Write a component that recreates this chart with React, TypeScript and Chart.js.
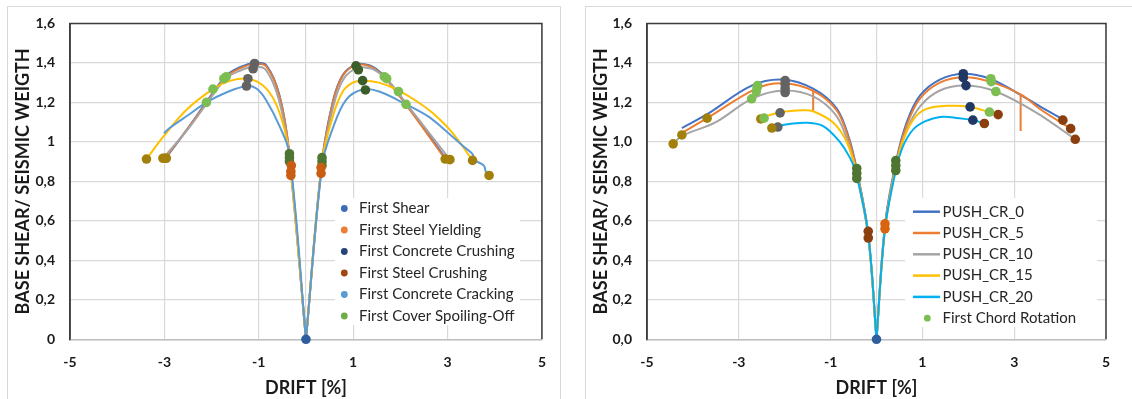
import React, { useEffect, useRef } from 'react';
import { Chart, registerables } from 'chart.js';

Chart.register(...registerables);

type Pt = [number, number];

// ---------------- axes / texts ----------------
const X_TICKS = [-5, -3, -1, 0, 1, 3, 5];
const Y_TICKS = [0, 0.2, 0.4, 0.6, 0.8, 1, 1.2, 1.4, 1.6];
const Y_LABELS_A = ['0', '0,2', '0,4', '0,6', '0,8', '1', '1,2', '1,4', '1,6'];
const Y_LABELS_B = ['0,0', '0,2', '0,4', '0,6', '0,8', '1,0', '1,2', '1,4', '1,6'];
const X_TITLE = 'DRIFT [%]';
const Y_TITLE = 'BASE SHEAR/ SEISMIC WEIGTH';

// ---------------- chart A (left) : curves ----------------
const A_CR0_NEG: Pt[] = [[0, 0], [-0.36, 0.95], [-0.56, 1.235], [-0.84, 1.388], [-1.09, 1.4], [-1.4, 1.378], [-1.7, 1.333], [-2.1, 1.205], [-2.5, 1.07], [-2.96, 0.92]];
const A_CR0_POS: Pt[] = [[0, 0], [0.34, 0.9], [0.57, 1.205], [0.78, 1.338], [1.06, 1.392], [1.34, 1.388], [1.55, 1.358], [1.7, 1.322], [2.26, 1.148], [2.95, 0.92]];
const A_CR5_NEG: Pt[] = [[0, 0], [-0.35, 0.94], [-0.56, 1.23], [-0.84, 1.382], [-1.09, 1.395], [-1.4, 1.372], [-1.7, 1.328], [-2.1, 1.2], [-2.5, 1.068], [-2.99, 0.917]];
const A_CR5_POS: Pt[] = [[0, 0], [0.33, 0.88], [0.57, 1.2], [0.78, 1.335], [1.06, 1.39], [1.34, 1.384], [1.55, 1.352], [1.7, 1.318], [2.26, 1.143], [2.95, 0.913]];
const A_CR10_NEG: Pt[] = [[0, 0], [-0.36, 0.93], [-0.57, 1.21], [-0.85, 1.365], [-1.1, 1.38], [-1.4, 1.36], [-1.7, 1.32], [-2.1, 1.195], [-2.5, 1.065], [-3.03, 0.917]];
const A_CR10_POS: Pt[] = [[0, 0], [0.34, 0.88], [0.58, 1.18], [0.8, 1.32], [1.1, 1.375], [1.4, 1.37], [1.6, 1.34], [1.75, 1.31], [2.3, 1.14], [3.05, 0.91]];
const A_CR15_NEG: Pt[] = [[0, 0], [-0.35, 0.93], [-0.45, 1.06], [-0.65, 1.2], [-0.91, 1.285], [-1.23, 1.32], [-1.6, 1.31], [-1.97, 1.267], [-2.53, 1.163], [-3.01, 1.03], [-3.38, 0.913]];
const A_CR15_POS: Pt[] = [[0, 0], [0.34, 0.9], [0.57, 1.13], [0.78, 1.255], [0.99, 1.3], [1.2, 1.31], [1.55, 1.3], [1.94, 1.263], [2.4, 1.197], [2.68, 1.147], [3.1, 1.047], [3.53, 0.906]];
const A_CR20_NEG: Pt[] = [[0, 0], [-0.35, 0.94], [-0.56, 1.08], [-0.84, 1.21], [-1.05, 1.27], [-1.26, 1.283], [-1.69, 1.25], [-2.11, 1.2], [-2.5, 1.135], [-2.89, 1.07], [-3.01, 1.043]];
const A_CR20_POS: Pt[] = [[0, 0], [0.34, 0.88], [0.57, 1.07], [0.85, 1.213], [1.2, 1.265], [1.55, 1.255], [2.12, 1.19], [2.58, 1.13], [2.93, 1.063], [3.32, 0.98], [3.53, 0.938], [3.56, 0.91], [3.77, 0.88], [3.82, 0.84], [3.88, 0.83]];

// chart A : event markers
const A_SHEAR: Pt[] = [[0, 0]];
const A_END: Pt[] = [[-3.38, 0.913], [-3.03, 0.917], [-2.99, 0.917], [-2.96, 0.917], [2.95, 0.913], [3.05, 0.91], [3.53, 0.906], [3.88, 0.83]];
const A_PEAK_NEG: Pt[] = [[-1.09, 1.397], [-1.12, 1.37], [-1.23, 1.32], [-1.26, 1.283]];
const A_PEAK_POS: Pt[] = [[1.06, 1.385], [1.11, 1.365], [1.2, 1.31], [1.26, 1.263]];
const A_MID: Pt[] = [[-1.69, 1.33], [-1.74, 1.32], [-1.97, 1.267], [-2.11, 1.2], [1.66, 1.33], [1.71, 1.32], [1.96, 1.255], [2.12, 1.19]];
const A_NEAR_GREEN: Pt[] = [[-0.35, 0.94], [-0.35, 0.92], [-0.35, 0.9], [0.34, 0.92], [0.34, 0.9], [0.34, 0.88]];
const A_NEAR_ORANGE: Pt[] = [[-0.31, 0.88], [-0.32, 0.85], [-0.32, 0.83], [0.32, 0.87], [0.32, 0.84]];

const A_LEGEND_LABELS = ['First Shear', 'First Steel Yielding', 'First Concrete Crushing', 'First Steel Crushing', 'First Concrete Cracking', 'First Cover Spoiling-Off'];
const A_LEGEND_COLORS = ['#3F6CB8', '#ED7D31', '#264478', '#9E480E', '#5B9BD5', '#70AD47'];

// ---------------- chart B (right) : curves ----------------
const B_SERIES = ['PUSH_CR_0', 'PUSH_CR_5', 'PUSH_CR_10', 'PUSH_CR_15', 'PUSH_CR_20'];
const B_CR0_NEG: Pt[] = [[0, 0], [-0.18, 0.535], [-0.43, 0.86], [-0.6, 1.02], [-0.87, 1.17], [-1.38, 1.27], [-2.03, 1.315], [-2.72, 1.285], [-3.69, 1.14], [-4.24, 1.07]];
const B_CR0_POS: Pt[] = [[0, 0], [0.185, 0.58], [0.425, 0.9], [0.66, 1.1], [0.95, 1.235], [1.38, 1.315], [1.89, 1.345], [2.47, 1.32], [3.05, 1.25], [3.56, 1.18], [4.07, 1.113]];
const B_CR5_NEG: Pt[] = [[0, 0], [-0.18, 0.53], [-0.43, 0.85], [-0.6, 1.01], [-0.87, 1.16], [-1.38, 1.258], [-2.03, 1.297], [-2.62, 1.27], [-3.69, 1.12], [-4.28, 1.04]];
const B_CR5_POS: Pt[] = [[0, 0], [0.185, 0.57], [0.425, 0.89], [0.66, 1.085], [0.95, 1.22], [1.38, 1.3], [1.89, 1.327], [2.47, 1.305], [3.14, 1.24], [3.6, 1.16], [4.23, 1.067]];
const B_CR5_DROP_NEG: Pt[] = [[-1.38, 1.258], [-1.38, 1.155]];
const B_CR5_DROP_POS: Pt[] = [[3.14, 1.24], [3.14, 1.055]];
const B_CR10_NEG: Pt[] = [[0, 0], [-0.18, 0.52], [-0.43, 0.83], [-0.6, 0.98], [-0.87, 1.13], [-1.38, 1.23], [-2.03, 1.26], [-2.72, 1.218], [-3.5, 1.1], [-4.24, 1.03], [-4.43, 0.99]];
const B_CR10_POS: Pt[] = [[0, 0], [0.185, 0.56], [0.425, 0.88], [0.66, 1.06], [0.95, 1.18], [1.38, 1.26], [1.95, 1.285], [2.6, 1.255], [3.49, 1.147], [4.33, 1.013]];
const B_CR15_NEG: Pt[] = [[0, 0], [-0.18, 0.52], [-0.43, 0.84], [-0.65, 1.0], [-0.94, 1.097], [-1.38, 1.155], [-1.6, 1.16], [-2.1, 1.15], [-2.4, 1.13], [-2.54, 1.12]];
const B_CR15_POS: Pt[] = [[0, 0], [0.185, 0.56], [0.425, 0.87], [0.55, 0.99], [0.8, 1.113], [1.09, 1.167], [1.6, 1.183], [2.04, 1.177], [2.47, 1.15], [2.65, 1.138]];
const B_CR20_NEG: Pt[] = [[0, 0], [-0.18, 0.53], [-0.43, 0.83], [-0.58, 0.92], [-0.8, 1.0], [-1.16, 1.08], [-1.52, 1.097], [-1.9, 1.09], [-2.14, 1.08], [-2.28, 1.07]];
const B_CR20_POS: Pt[] = [[0, 0], [0.185, 0.56], [0.425, 0.86], [0.6, 0.99], [0.88, 1.08], [1.38, 1.126], [1.8, 1.12], [2.1, 1.11], [2.35, 1.093]];

// chart B : markers
const B_CHORD_LABEL = 'First Chord Rotation';
const B_CHORD: Pt[] = [[-2.72, 1.218], [-2.62, 1.255], [-2.6, 1.275], [-2.59, 1.285], [-2.45, 1.12], [2.49, 1.32], [2.5, 1.305], [2.6, 1.255], [2.46, 1.151]];
const B_SHEAR: Pt[] = [[0, 0]];
const B_END: Pt[] = [[-4.43, 0.99], [-4.24, 1.035], [-3.69, 1.12], [-2.52, 1.116], [-2.28, 1.07]];
const B_PEAK_NEG: Pt[] = [[-1.99, 1.31], [-1.99, 1.29], [-1.99, 1.27], [-1.99, 1.25], [-2.1, 1.147], [-2.15, 1.075]];
const B_PEAK_POS: Pt[] = [[1.89, 1.345], [1.89, 1.325], [1.95, 1.285], [2.04, 1.177], [2.1, 1.11]];
const B_CRUSH: Pt[] = [[2.65, 1.138], [2.35, 1.093], [4.06, 1.11], [4.23, 1.067], [4.33, 1.013], [-0.18, 0.547], [-0.18, 0.513]];
const B_NEAR_GREEN: Pt[] = [[-0.43, 0.865], [-0.43, 0.84], [-0.43, 0.815], [0.42, 0.905], [0.42, 0.88], [0.42, 0.855]];
const B_NEAR_ORANGE: Pt[] = [[0.185, 0.585], [0.185, 0.56]];

// ---------------- styles ----------------
const FONT = 'Lato, "Noto Sans", sans-serif';
const TEXT = '#1a1a1a';
const GRID = '#D9D9D9';
const FRAME = '#3c3c3c';
const A_LINE_COLORS = ['#4472C4', '#E07B39', '#A5A5A5', '#FFC000', '#5B9BD5'];
const B_LINE_COLORS = ['#4472C4', '#ED7D31', '#A5A5A5', '#FFC000', '#00B0F0'];
const C_GOLD = '#A3800B';
const C_DGRAY = '#636363';
const C_DGREEN_PEAK = '#3B5E2B';
const C_LGREEN = '#7DBE52';
const C_DGREEN = '#4E7632';
const C_ORANGE = '#C95E12';
const C_BROWN = '#8B3F0E';
const C_NAVY = '#203864';
const C_BLUE = '#2E5E9E';

const toXY = (pts: Pt[]) => pts.map(([x, y]) => ({ x, y }));

function lineSet(label: string, pts: Pt[], color: string, order: number, straight = false) {
  return {
    label,
    data: toXY(pts),
    showLine: true,
    borderColor: color,
    backgroundColor: color,
    borderWidth: 2,
    pointRadius: 0,
    pointHoverRadius: 0,
    pointHitRadius: 0,
    cubicInterpolationMode: 'default',
    tension: straight ? 0 : 0.35,
    fill: false,
    order,
  };
}

function markerSet(label: string, pts: Pt[], color: string) {
  return {
    label,
    data: toXY(pts),
    showLine: false,
    pointRadius: 4.8,
    pointHoverRadius: 4.8,
    pointBackgroundColor: color,
    pointBorderColor: color,
    pointBorderWidth: 0,
    clip: false,
    order: 0,
  };
}

const overlayPlugin = {
  id: 'overlay',
  afterDraw(chart: any, _args: any, opts: any) {
    const { ctx, chartArea: a } = chart;
    ctx.save();
    ctx.strokeStyle = FRAME;
    ctx.lineWidth = 1.5;
    ctx.beginPath();
    ctx.moveTo(a.left, a.bottom);
    ctx.lineTo(a.left, a.top);
    ctx.lineTo(a.right, a.top);
    ctx.lineTo(a.right, a.bottom);
    ctx.stroke();

    const lg = opts;
    if (lg && lg.items) {
      ctx.fillStyle = '#ffffff';
      ctx.fillRect(lg.box[0], lg.box[1], lg.box[2], lg.box[3]);
      ctx.font = `15px ${FONT}`;
      ctx.textBaseline = 'middle';
      lg.items.forEach((it: any, i: number) => {
        const cy = lg.row0 + i * lg.gap;
        if (it.kind === 'line') {
          ctx.strokeStyle = it.color;
          ctx.lineWidth = 2.5;
          ctx.beginPath();
          ctx.moveTo(lg.lineX[0], cy);
          ctx.lineTo(lg.lineX[1], cy);
          ctx.stroke();
        } else {
          ctx.fillStyle = it.color;
          ctx.beginPath();
          ctx.arc(lg.dotX, cy, 3.4, 0, Math.PI * 2);
          ctx.fill();
        }
        ctx.fillStyle = '#262626';
        ctx.textAlign = 'left';
        ctx.fillText(it.label, lg.textX, cy);
      });
    }
    ctx.restore();
  },
};

function buildConfig(datasets: any[], p: { yWidth: number; padRight: number; yLabels: string[]; yTitlePad: number; legend: any }) {
  const tickFont = { family: FONT, size: 14, weight: 'bold' as const };
  const titleFont = { family: FONT, size: 18, weight: 'bold' as const };
  return {
    type: 'scatter' as const,
    data: { datasets },
    plugins: [overlayPlugin],
    options: {
      animation: false,
      responsive: false,
      maintainAspectRatio: false,
      events: [],
      layout: { padding: { left: 0, right: p.padRight, top: 19.3, bottom: 0 } },
      plugins: {
        legend: { display: false },
        tooltip: { enabled: false },
        overlay: p.legend,
      },
      scales: {
        x: {
          type: 'linear',
          min: -5,
          max: 5,
          afterBuildTicks: (s: any) => {
            s.ticks = X_TICKS.map((v) => ({ value: v }));
          },
          afterFit: (s: any) => {
            s.height = 59.7;
          },
          ticks: {
            autoSkip: false,
            maxRotation: 0,
            padding: 15,
            color: TEXT,
            font: tickFont,
            callback: (v: any) => (v === 0 ? '' : String(v)),
          },
          grid: { color: GRID, lineWidth: 1.2, drawTicks: false },
          border: { display: true, color: '#BFBFBF', width: 1.5 },
          title: { display: true, text: X_TITLE, color: TEXT, font: titleFont, padding: { top: 0, bottom: 0 } },
        },
        y: {
          type: 'linear',
          min: 0,
          max: 1.6,
          afterBuildTicks: (s: any) => {
            s.ticks = Y_TICKS.map((v) => ({ value: v }));
          },
          afterFit: (s: any) => {
            s.width = p.yWidth;
          },
          ticks: {
            padding: 15,
            color: TEXT,
            font: tickFont,
            callback: (_v: any, i: number) => p.yLabels[i],
          },
          grid: { color: GRID, lineWidth: 1.2, drawTicks: false },
          border: { display: true, color: FRAME, width: 1.5 },
          title: { display: true, text: Y_TITLE, color: TEXT, font: titleFont, padding: { top: p.yTitlePad, bottom: 0 } },
        },
      },
    },
  };
}

function configA() {
  const curves: [Pt[], Pt[]][] = [
    [A_CR0_NEG, A_CR0_POS],
    [A_CR5_NEG, A_CR5_POS],
    [A_CR10_NEG, A_CR10_POS],
    [A_CR15_NEG, A_CR15_POS],
    [A_CR20_NEG, A_CR20_POS],
  ];
  const lines: any[] = [];
  curves.forEach(([n, q], i) => {
    lines.push(lineSet(B_SERIES[i] + ' (-)', n, A_LINE_COLORS[i], 10 - i));
    lines.push(lineSet(B_SERIES[i] + ' (+)', q, A_LINE_COLORS[i], 10 - i));
  });
  const markers = [
    markerSet(A_LEGEND_LABELS[0], A_SHEAR, C_BLUE),
    markerSet(A_LEGEND_LABELS[1], A_NEAR_ORANGE, C_ORANGE),
    markerSet(A_LEGEND_LABELS[2], A_PEAK_NEG, C_DGRAY),
    markerSet(A_LEGEND_LABELS[2], A_PEAK_POS, C_DGREEN_PEAK),
    markerSet(A_LEGEND_LABELS[3], A_END, C_GOLD),
    markerSet(A_LEGEND_LABELS[4], A_MID, C_LGREEN),
    markerSet(A_LEGEND_LABELS[5], A_NEAR_GREEN, C_DGREEN),
  ];
  const legend = {
    box: [327, 198, 185, 127],
    row0: 208.5,
    gap: 21.5,
    dotX: 336.3,
    lineX: [0, 0],
    textX: 351,
    items: A_LEGEND_LABELS.map((label, i) => ({ label, color: A_LEGEND_COLORS[i], kind: 'dot' })),
  };
  return buildConfig([...markers, ...lines], { yWidth: 62, padRight: 17.7, yLabels: Y_LABELS_A, yTitlePad: 4.5, legend });
}

function configB() {
  const curves: [Pt[], Pt[]][] = [
    [B_CR0_NEG, B_CR0_POS],
    [B_CR5_NEG, B_CR5_POS],
    [B_CR10_NEG, B_CR10_POS],
    [B_CR15_NEG, B_CR15_POS],
    [B_CR20_NEG, B_CR20_POS],
  ];
  const lines: any[] = [];
  curves.forEach(([n, q], i) => {
    lines.push(lineSet(B_SERIES[i], n, B_LINE_COLORS[i], 10 - i));
    lines.push(lineSet(B_SERIES[i], q, B_LINE_COLORS[i], 10 - i));
  });
  lines.push(lineSet(B_SERIES[1], B_CR5_DROP_NEG, B_LINE_COLORS[1], 9, true));
  lines.push(lineSet(B_SERIES[1], B_CR5_DROP_POS, B_LINE_COLORS[1], 9, true));
  const markers = [
    markerSet(B_CHORD_LABEL, B_CHORD, C_LGREEN),
    markerSet('shear', B_SHEAR, C_BLUE),
    markerSet('end', B_END, C_GOLD),
    markerSet('peak-', B_PEAK_NEG, C_DGRAY),
    markerSet('peak+', B_PEAK_POS, C_NAVY),
    markerSet('crush', B_CRUSH, C_BROWN),
    markerSet('near-green', B_NEAR_GREEN, C_DGREEN),
    markerSet('near-orange', B_NEAR_ORANGE, '#D9640F'),
  ];
  const legend = {
    box: [319, 198, 192, 129],
    row0: 211.7,
    gap: 21.3,
    dotX: 341.3,
    lineX: [327, 354],
    textX: 356.5,
    items: [
      ...B_SERIES.map((label, i) => ({ label, color: B_LINE_COLORS[i], kind: 'line' })),
      { label: B_CHORD_LABEL, color: C_LGREEN, kind: 'dot' },
    ],
  };
  return buildConfig([...markers, ...lines], { yWidth: 61, padRight: 26, yLabels: Y_LABELS_B, yTitlePad: 3.9, legend });
}

function ChartCanvas({ make, left, width }: { make: () => any; left: number; width: number }) {
  const ref = useRef<HTMLCanvasElement>(null);
  useEffect(() => {
    const chart = new Chart(ref.current as HTMLCanvasElement, make());
    return () => chart.destroy();
  }, []);
  return (
    <canvas
      ref={ref}
      width={width}
      height={399}
      style={{ position: 'absolute', left, top: 0, width, height: 399, display: 'block' }}
    />
  );
}

export default function App() {
  return (
    <div style={{ position: 'absolute', left: 0, top: 0, width: 1132, height: 399, overflow: 'hidden', background: '#ffffff' }}>
      <div style={{ position: 'absolute', left: 7, top: 6, width: 554, height: 420, boxSizing: 'border-box', border: '1px solid #D9D9D9' }} />
      <div style={{ position: 'absolute', left: 585, top: 6, width: 600, height: 420, boxSizing: 'border-box', border: '1px solid #D9D9D9' }} />
      <ChartCanvas make={configA} left={8} width={553} />
      <ChartCanvas make={configB} left={586} width={546} />
    </div>
  );
}
